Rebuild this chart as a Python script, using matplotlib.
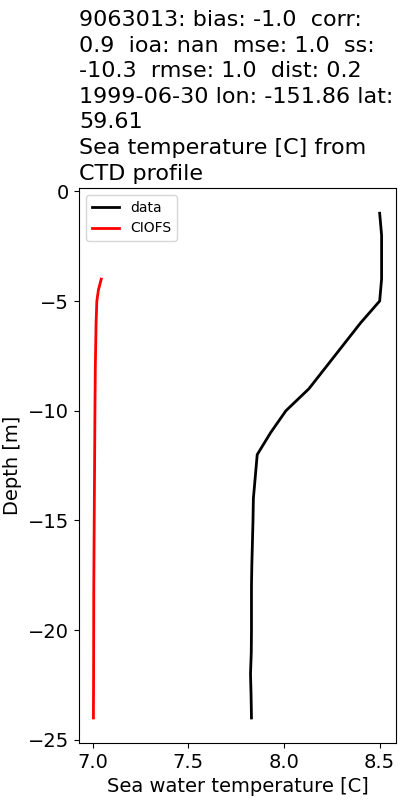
import matplotlib
matplotlib.use("Agg")
import matplotlib.pyplot as plt
import numpy as np

title_lines = [
    "9063013: bias: -1.0  corr:",
    "0.9  ioa: nan  mse: 1.0  ss:",
    "-10.3  rmse: 1.0  dist: 0.2",
    "1999-06-30 lon: -151.86 lat:",
    "59.61",
    "Sea temperature [C] from",
    "CTD profile",
]

data_depth = [-1, -2, -3, -4, -5, -6, -7, -8, -9, -10, -11, -12, -13, -14, -15, -16,
              -17, -18, -19, -20, -21, -22, -23, -24]
data_temp = [8.50, 8.51, 8.51, 8.51, 8.50, 8.40, 8.31, 8.22, 8.13, 8.01, 7.93, 7.86,
             7.85, 7.84, 7.838, 7.835, 7.832, 7.83, 7.83, 7.83, 7.829, 7.825, 7.828, 7.83]

model_depth = [-4.0, -4.5, -5.0, -6.0, -8.0, -10.0, -14.0, -18.0, -22.0, -24.0]
model_temp = [7.045, 7.030, 7.022, 7.018, 7.014, 7.012, 7.009, 7.006, 7.005, 7.004]

fig = plt.figure(figsize=(4, 8), dpi=100)
ax = fig.add_axes([0.1975, 0.071, 0.7925, 0.694])
ax.plot(data_temp, data_depth, color="k", lw=2, label="data")
ax.plot(model_temp, model_depth, color="r", lw=2, label="CIOFS")
ax.set_xticks([7.0, 7.5, 8.0, 8.5])
ax.tick_params(labelsize=14)
ax.set_xlabel("Sea water temperature [C]", fontsize=14)
ax.set_ylabel("Depth [m]", fontsize=14)
ax.set_title("\n".join(title_lines), loc="left", fontsize=16, linespacing=1.35)
ax.legend(loc="upper left", fontsize=10)
fig.savefig("out.png", dpi=100)
